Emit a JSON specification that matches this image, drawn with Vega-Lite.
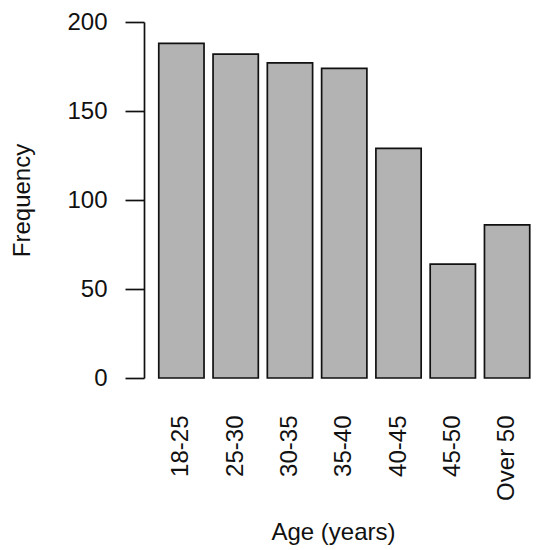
{
  "$schema": "https://vega.github.io/schema/vega-lite/v6.json",
  "autosize": {"type": "none"},
  "padding": {"left": 144, "top": 22, "right": 0, "bottom": 172},
  "width": 396,
  "height": 356,
  "background": "white",
  "config": {
    "view": {"stroke": null},
    "font": "Liberation Sans",
    "axis": {
      "labelFont": "Liberation Sans",
      "titleFont": "Liberation Sans",
      "labelColor": "#111111",
      "titleColor": "#111111",
      "titleFontWeight": "normal",
      "grid": false
    }
  },
  "data": {
    "values": [
      {"age": "18-25", "frequency": 188},
      {"age": "25-30", "frequency": 182},
      {"age": "30-35", "frequency": 177},
      {"age": "35-40", "frequency": 174},
      {"age": "40-45", "frequency": 129},
      {"age": "45-50", "frequency": 64},
      {"age": "Over 50", "frequency": 86}
    ]
  },
  "mark": {"type": "bar", "fill": "#b3b3b3", "stroke": "#111111", "strokeWidth": 1.7},
  "encoding": {
    "x": {
      "field": "age",
      "type": "nominal",
      "sort": null,
      "title": "Age (years)",
      "scale": {"paddingInner": 0.166, "paddingOuter": 0.2305, "align": 0.59},
      "axis": {
        "domain": false,
        "ticks": false,
        "labelAngle": 270,
        "labelFontSize": 24,
        "labelPadding": 37,
        "titleFontSize": 24,
        "titlePadding": 20,
        "titleX": 189
      }
    },
    "y": {
      "field": "frequency",
      "type": "quantitative",
      "title": "Frequency",
      "scale": {"domain": [0, 200], "nice": false},
      "axis": {
        "values": [0, 50, 100, 150, 200],
        "domainColor": "#111111",
        "domainWidth": 1.7,
        "tickColor": "#111111",
        "tickWidth": 1.7,
        "tickSize": 19,
        "labelFontSize": 24,
        "labelPadding": 18,
        "titleFontSize": 24,
        "titlePadding": 32
      }
    }
  }
}
